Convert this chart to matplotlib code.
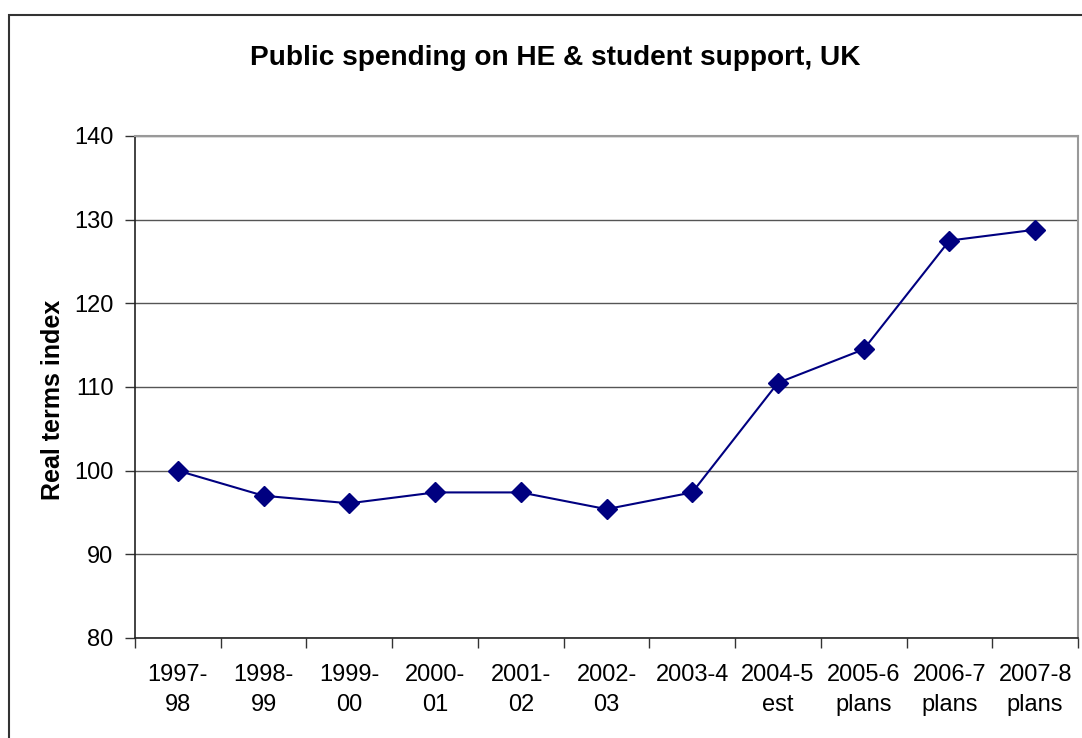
import matplotlib.pyplot as plt
from matplotlib.patches import Rectangle
from matplotlib.ticker import FixedLocator

plt.rcParams['font.family'] = ['Liberation Sans', 'DejaVu Sans']

years = ["1997-\n98", "1998-\n99", "1999-\n00", "2000-\n01", "2001-\n02", "2002-\n03",
         "2003-4", "2004-5\nest", "2005-6\nplans", "2006-7\nplans", "2007-8\nplans"]
index = [100.0, 97.0, 96.1, 97.4, 97.4, 95.4, 97.4, 110.5, 114.5, 127.5, 128.8]

fig = plt.figure(figsize=(10.82, 7.38), dpi=100)
ax = fig.add_axes([135 / 1082, 1 - 638 / 738, 943 / 1082, 502 / 738])

# outer chart frame (right and bottom run off the picture)
fig.patches.append(Rectangle((9 / 1082, -0.05), 1.2, 1 - 15 / 738 + 0.05,
                             transform=fig.transFigure, fill=False,
                             edgecolor='#333333', lw=1.5))

x = list(range(len(years)))
ax.plot(x, index, color='#000080', lw=1.5, marker='D', markersize=10,
        markerfacecolor='#000080', markeredgecolor='#000080', zorder=3)

ax.set_xlim(-0.5, len(years) - 0.5)
ax.set_ylim(80, 140)
ax.set_yticks(range(80, 141, 10))
ax.set_xticks(x)
ax.set_xticklabels(years, linespacing=1.42)
ax.xaxis.set_minor_locator(FixedLocator([i - 0.5 for i in range(len(years) + 1)]))
ax.tick_params(axis='x', which='major', length=0, pad=19, labelsize=17)
ax.tick_params(axis='x', which='minor', length=7, width=1, direction='out', color='#333333')
ax.tick_params(axis='y', length=7, width=1, direction='out', labelsize=17, pad=8.5, color='#333333')

ax.grid(axis='y', color='#555555', lw=1)
ax.set_axisbelow(True)
for s in ['top', 'right']:
    ax.spines[s].set_color('#999999')
    ax.spines[s].set_linewidth(1.5)
for s in ['left', 'bottom']:
    ax.spines[s].set_color('#222222')
    ax.spines[s].set_linewidth(1.2)

ax.set_ylabel("Real terms index", fontsize=18, fontweight='bold', va='center')
ax.yaxis.set_label_coords(-0.087, 0.474)
fig.text(555 / 1082, 1 - 58 / 738, "Public spending on HE & student support, UK",
         ha='center', va='center', fontsize=20.2, fontweight='bold')

fig.savefig("out.png", dpi=100)
